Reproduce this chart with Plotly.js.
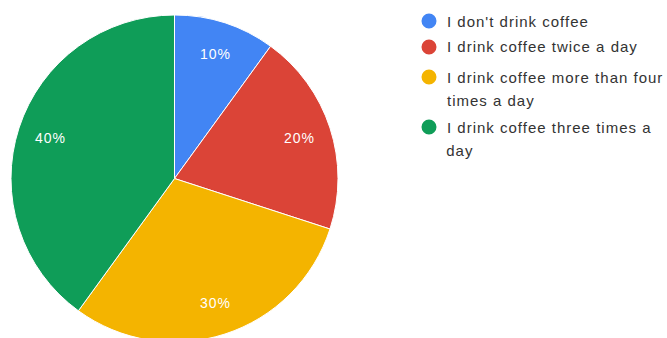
<!DOCTYPE html>
<html>
<head>
<meta charset="utf-8">
<script src="https://cdn.plot.ly/plotly-3.0.1.min.js"></script>
<style>
html,body{margin:0;padding:0;overflow:hidden;background:#fff;}
#chart{width:667px;height:360px;}
</style>
</head>
<body>
<div id="chart"></div>
<script>
// Data
const labels = ["I don't drink coffee", "I drink coffee twice a day", "I drink coffee more than four times a day", "I drink coffee three times a day"];
const legendLines = [["I don't drink coffee"], ["I drink coffee twice a day"], ["I drink coffee more than four", "times a day"], ["I drink coffee three times a", "day"]];
const values = [10, 20, 30, 40];
const colors = ["#4285F4", "#DB4437", "#F4B400", "#0F9D58"];

const W = 667, H = 360;
const pieL = 11, pieR = 338, pieT = 15, pieB = 342;
const trace = {
  type: 'pie',
  labels: labels,
  values: values,
  sort: false,
  direction: 'clockwise',
  rotation: 0,
  marker: {colors: colors, line: {color: '#ffffff', width: 1}},
  textinfo: 'none',
  hoverinfo: 'none',
  showlegend: false,
  domain: {x: [pieL / W, pieR / W], y: [1 - pieB / H, 1 - pieT / H]}
};

const font = 'Liberation Sans, Arial, sans-serif';
const shapes = [];
const annotations = [];

// percentage labels placed along each slice's mid-angle
const total = values.reduce((a, b) => a + b, 0);
const cx = (pieL + pieR) / 2, cy = (pieT + pieB) / 2, R = (pieR - pieL) / 2;
const labelR = 0.8 * R;
let cum = 0;
values.forEach((v) => {
  const mid = (cum + v / 2) / total * 2 * Math.PI;
  cum += v;
  annotations.push({
    xref: 'paper', yref: 'paper',
    x: (cx + labelR * Math.sin(mid)) / W,
    y: 1 - (cy - labelR * Math.cos(mid)) / H,
    xanchor: 'center', yanchor: 'middle',
    text: Math.round(v / total * 100) + '%', showarrow: false,
    font: {family: font, size: 14, color: '#ffffff'},
    name: 'pct'
  });
});

// legend
const itemY = [21, 47, 77, 127];
const lineGap = 23;
legendLines.forEach((lines, i) => {
  shapes.push({
    type: 'circle', xref: 'paper', yref: 'paper',
    xsizemode: 'pixel', ysizemode: 'pixel',
    xanchor: 429 / W, yanchor: 1 - itemY[i] / H,
    x0: -7.5, x1: 7.5, y0: -7.5, y1: 7.5,
    fillcolor: colors[i], line: {width: 0}
  });
  lines.forEach((t, j) => {
    annotations.push({
      xref: 'paper', yref: 'paper',
      x: 445 / W, y: 1 - (itemY[i] + j * lineGap) / H,
      xanchor: 'left', yanchor: 'middle',
      text: t, showarrow: false,
      font: {family: font, size: 15, color: '#333333'},
      name: 'legend'
    });
  });
});

const layout = {
  width: W, height: H,
  margin: {l: 0, r: 0, t: 0, b: 0},
  paper_bgcolor: '#ffffff',
  showlegend: false,
  shapes: shapes,
  annotations: annotations
};

Plotly.newPlot('chart', [trace], layout, {displayModeBar: false, staticPlot: true}).then(() => {
  document.querySelectorAll('.annotation-text').forEach(el => {
    const before = el.getBBox();
    el.setAttribute('letter-spacing', '1px');
    const after = el.getBBox();
    // keep legend text left-aligned, percentage labels centred
    const isLegend = before.width > 40;
    const dx = isLegend ? (before.x - after.x) : ((before.x + before.width / 2) - (after.x + (after.width - 1) / 2));
    el.setAttribute('x', parseFloat(el.getAttribute('x') || 0) + dx);
  });
});
</script>
</body>
</html>
